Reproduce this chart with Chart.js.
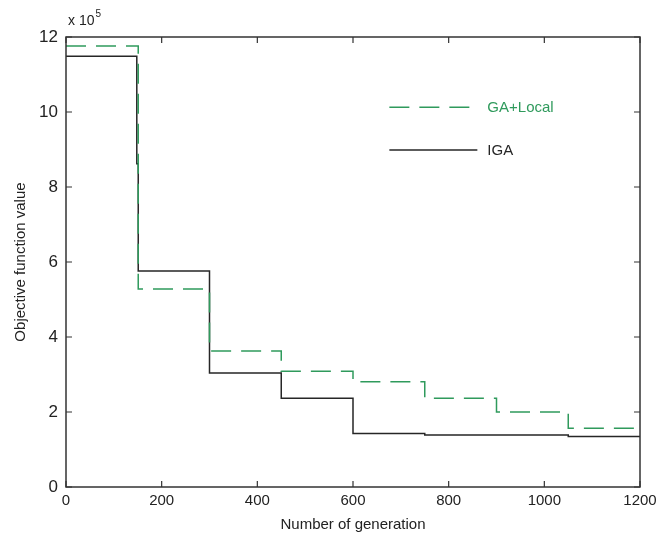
<!DOCTYPE html>
<html>
<head>
<meta charset="utf-8">
<script src="https://cdn.jsdelivr.net/npm/chart.js@4.4.1/dist/chart.umd.min.js"></script>
<style>
  html, body { margin: 0; padding: 0; background: #fff; }
  #wrap { width: 670px; height: 536px; }
</style>
</head>
<body>
<div id="wrap"><canvas id="objective-chart"></canvas></div>
<script>
// step positions (generation) and objective values (x 10^5)
const igaGen = [0, 148, 151, 300, 450, 600, 750, 1050, 1200];
const igaVal = [11.49, 8.62, 5.76, 3.04, 2.37, 1.43, 1.39, 1.35, 1.35];
const gaGen = [0, 151, 300, 450, 600, 750, 900, 1050, 1200];
const gaVal = [11.76, 5.28, 3.63, 3.09, 2.81, 2.37, 2.0, 1.57, 1.57];
const xTicks = [0, 200, 400, 600, 800, 1000, 1200];
const yTicks = [0, 2, 4, 6, 8, 10, 12];

const FONT = "'Liberation Sans', Arial, sans-serif";
const GREEN = '#2f9a5c';
const BLACK = '#262626';

const toPoints = (xs, ys) => xs.map((x, i) => ({ x: x, y: ys[i] }));

// box, inward ticks, exponent label and the in-plot legend
const matlabFrame = {
    id: 'matlabFrame',
    afterDraw(chart) {
        const { ctx, chartArea: a, scales } = chart;
        ctx.save();
        ctx.strokeStyle = '#333';
        ctx.lineWidth = 1.5;
        ctx.strokeRect(a.left, a.top, a.right - a.left, a.bottom - a.top);
        ctx.lineWidth = 1.2;
        ctx.beginPath();
        xTicks.forEach(v => {
            const px = scales.x.getPixelForValue(v);
            ctx.moveTo(px, a.bottom); ctx.lineTo(px, a.bottom - 6);
            ctx.moveTo(px, a.top); ctx.lineTo(px, a.top + 6);
        });
        yTicks.forEach(v => {
            const py = scales.y.getPixelForValue(v);
            ctx.moveTo(a.left, py); ctx.lineTo(a.left + 6, py);
            ctx.moveTo(a.right, py); ctx.lineTo(a.right - 6, py);
        });
        ctx.stroke();

        // x 10^5
        ctx.fillStyle = '#222';
        ctx.font = '14px ' + FONT;
        ctx.textBaseline = 'alphabetic';
        ctx.textAlign = 'left';
        ctx.fillText('x 10', a.left + 2, a.top - 12);
        const w = ctx.measureText('x 10').width;
        ctx.font = '10px ' + FONT;
        ctx.fillText('5', a.left + 2 + w + 1, a.top - 20);

        // legend
        const items = chart.data.datasets;
        const lx = scales.x.getPixelForValue(676);
        const ys = [scales.y.getPixelForValue(10.13), scales.y.getPixelForValue(8.99)];
        items.forEach((ds, i) => {
            ctx.strokeStyle = ds.borderColor;
            ctx.lineWidth = ds.borderWidth;
            ctx.setLineDash(ds.borderDash || []);
            ctx.beginPath();
            ctx.moveTo(lx, ys[i]);
            ctx.lineTo(lx + 88, ys[i]);
            ctx.stroke();
            ctx.setLineDash([]);
            ctx.fillStyle = ds.borderColor;
            ctx.font = '15px ' + FONT;
            ctx.textBaseline = 'middle';
            ctx.fillText(ds.label, lx + 98, ys[i] + 1);
        });
        ctx.restore();
    }
};

const chart = new Chart(document.getElementById('objective-chart').getContext('2d'), {
    type: 'line',
    data: {
        datasets: [
            {
                label: 'GA+Local',
                data: toPoints(gaGen, gaVal),
                borderColor: GREEN,
                borderWidth: 1.5,
                borderDash: [20, 10],
                stepped: 'before',
                pointRadius: 0,
                fill: false
            },
            {
                label: 'IGA',
                data: toPoints(igaGen, igaVal),
                borderColor: BLACK,
                borderWidth: 1.5,
                stepped: 'before',
                pointRadius: 0,
                fill: false
            }
        ]
    },
    options: {
        responsive: true,
        maintainAspectRatio: false,
        animation: false,
        layout: { padding: { top: 37, right: 30, left: 12, bottom: 0 } },
        plugins: {
            legend: { display: false },
            tooltip: { enabled: false }
        },
        scales: {
            x: {
                type: 'linear',
                min: 0,
                max: 1200,
                afterFit: s => { s.height = 49; },
                afterBuildTicks: s => { s.ticks = xTicks.map(v => ({ value: v })); },
                grid: { display: false, drawTicks: false },
                border: { display: false },
                ticks: {
                    padding: 5,
                    color: '#222',
                    font: { family: FONT, size: 15 },
                    maxRotation: 0,
                    callback: v => String(v)
                },
                title: {
                    display: true,
                    text: 'Number of generation',
                    color: '#222',
                    font: { family: FONT, size: 15 },
                    padding: { top: 0, bottom: 2 }
                }
            },
            y: {
                type: 'linear',
                min: 0,
                max: 12,
                afterFit: s => { s.width = 54; },
                afterBuildTicks: s => { s.ticks = yTicks.map(v => ({ value: v })); },
                grid: { display: false, drawTicks: false },
                border: { display: false },
                ticks: {
                    padding: 8,
                    color: '#222',
                    font: { family: FONT, size: 17 },
                    callback: v => String(v)
                },
                title: {
                    display: true,
                    text: 'Objective function value',
                    color: '#222',
                    font: { family: FONT, size: 15 },
                    padding: { top: 0, bottom: 4 }
                }
            }
        }
    },
    plugins: [matlabFrame]
});
</script>
</body>
</html>
